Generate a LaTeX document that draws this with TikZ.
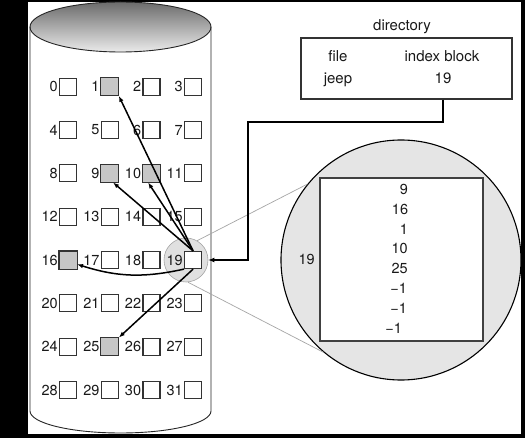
\documentclass[tikz,border=0pt]{standalone}
\usepackage{fontspec}
\setmainfont{TeX Gyre Heros}
\usetikzlibrary{arrows.meta,calc}
\begin{document}
\begin{tikzpicture}[x=1pt,y=1pt,
  blk/.style={draw=black!80, line width=1.2pt, minimum size=17pt, inner sep=0pt, fill=white},
  usedfill/.style={fill=black!22, draw=black!80, line width=1.2pt},
  lbl/.style={font=\fontsize{14.5}{17}\selectfont, inner sep=0pt, anchor=east, text=black!90},
  txt/.style={font=\fontsize{14.5}{17}\selectfont, inner sep=0pt, text=black!90},
  dtxt/.style={font=\fontsize{15}{18}\selectfont, inner sep=0pt, anchor=base, text=black!90},
  ptr/.style={line width=1.5pt, -{Latex[length=6pt,width=4.5pt]}},
  zoomline/.style={black!35, line width=0.7pt}]
\useasboundingbox (0,0) rectangle (525,-438);
\fill[black] (0,0) rectangle (525,-438);
\fill[white] (28,-2) rectangle (521,-434);
% cylinder
\shade[top color=black!58, bottom color=black!8] (120.5,-27) ellipse [x radius=90.5, y radius=25];
\draw[line width=0.9pt, black!85] (120.5,-27) ellipse [x radius=90.5, y radius=25];
\draw[line width=0.9pt, black!85] (30,-27) -- (30,-411) arc[start angle=180, end angle=360, x radius=90.5, y radius=22] -- (211,-27);
% zoom circle around block 19
\node[circle, draw=black!35, fill=black!12, minimum size=44pt, inner sep=0pt, line width=0.6pt] (zc) at (186,-260) {};
% blocks
\foreach \i in {0,...,31} {
  \pgfmathtruncatemacro\r{\i/4}
  \pgfmathtruncatemacro\c{mod(\i,4)}
  \node[blk] (b\i) at ({68+41.7*\c},{-86.7-43.33*\r}) {};
  \node[lbl] (l\i) at ([xshift=-1pt]b\i.west) {\i};
}
\foreach \i in {1,9,10,16,25} {
  \path[usedfill] (b\i.south west) rectangle (b\i.north east);
}
% big circle with index block
\node[circle, draw=black, fill=black!10, line width=1.1pt, minimum size=240pt, inner sep=0pt] (big) at (401,-260) {};
\draw[zoomline] (zc.60) -- (big.141);
\draw[zoomline] (zc.275) -- (big.230);
\node[draw=black!75, fill=white, line width=1.2pt, minimum size=163pt, inner sep=0pt] (ib) at (401.5,-259.5) {};
\node[txt] (e1) at (404,-189.3) {9};
\node[txt] (e2) at (400,-209.5) {16};
\node[txt] (e3) at (404,-229.3) {1};
\node[txt] (e4) at (399.7,-248.8) {10};
\node[txt] (e5) at (399.7,-268.5) {25};
\node[txt] (e6) at (398.7,-288.3) {−1};
\node[txt] (e7) at (398.7,-308.3) {−1};
\node[txt] (e8) at (393.7,-328.3) {−1};
\node[txt] (ibl) at (306.7,-259.3) {19};
% directory
\node[draw=black!80, line width=1.1pt, minimum width=211pt, minimum height=61pt, inner sep=0pt] (dir) at (406.5,-68.5) {};
\node[dtxt] (dtitle) at (402,-31) {directory};
\node[dtxt] (dfile) at (338,-62) {file};
\node[dtxt] (dindex) at (442,-62) {index block};
\node[dtxt] (djeep) at (338,-84) {jeep};
\node[dtxt] (didx) at (443,-84) {19};
\coordinate (c1) at (248,-122);
\draw[line width=1.8pt, -{Latex[length=6pt,width=5pt]}] (didx |- dir.south) |- (c1) |- (zc.east);
% pointers
\draw[ptr] (b19.north) -- (b1.south east);
\draw[ptr] (b19.north) -- (b9.-70);
\draw[ptr] (b19.north) -- (b10.-110);
\draw[ptr] (b19.south west) to[bend left=15] (b16.-25);
\draw[ptr] (b19.south) -- (b25.north east);
\end{tikzpicture}
\end{document}
